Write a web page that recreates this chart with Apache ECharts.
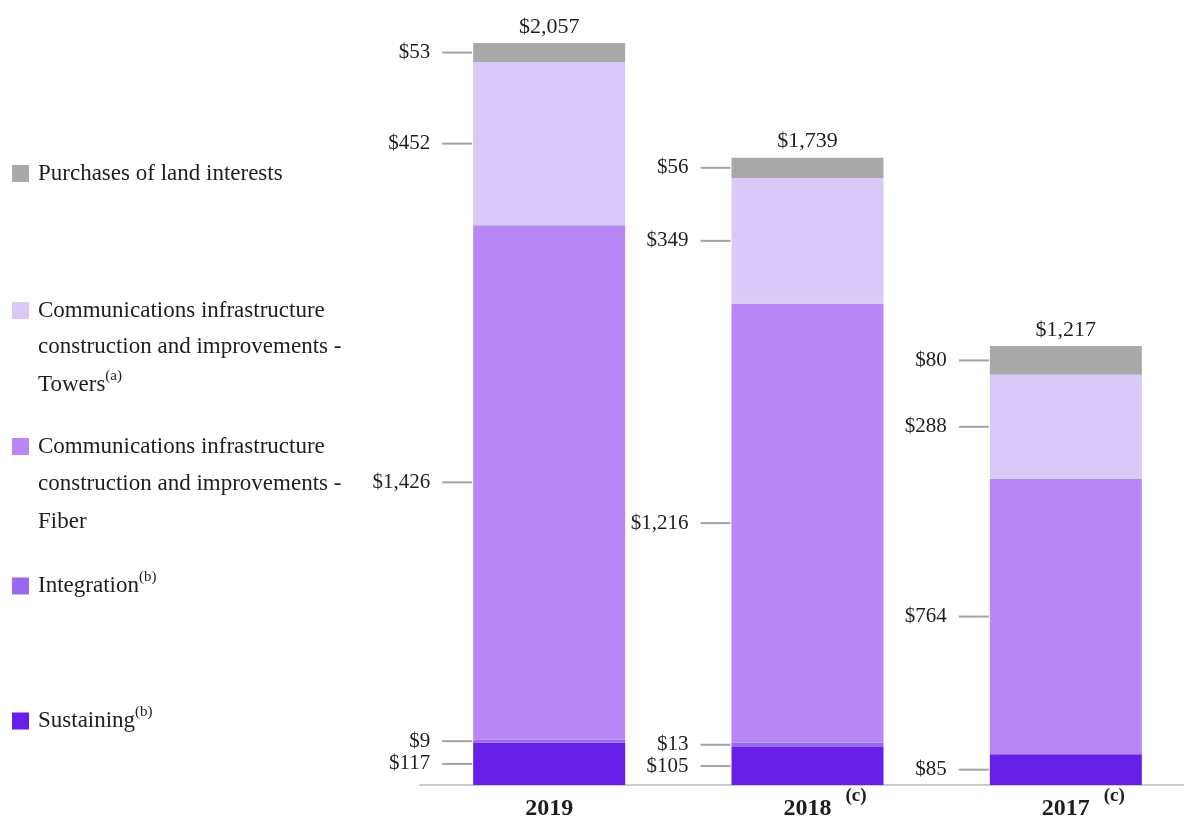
<!DOCTYPE html>
<html>
<head>
<meta charset="utf-8">
<script src="https://cdn.jsdelivr.net/npm/echarts@6/dist/echarts.min.js"></script>
<style>
html, body { margin: 0; padding: 0; background: #fff; }
#chart { width: 1184px; height: 824px; }
</style>
</head>
<body>
<div id="chart"></div>
<script>
// values in $ millions
var years = ['2019', '2018', '2017'];
var yearNotes = ['', '(c)', '(c)'];
var sustaining = [117, 105, 85];
var integration = [9, 13, 0];
var fiber = [1426, 1216, 764];
var towers = [452, 349, 288];
var land = [53, 56, 80];
var totals = [2057, 1739, 1217];

var serif = '"Liberation Serif", "DejaVu Serif", serif';
var textColor = '#1e1e1e';

function money(v) {
  return '$' + v.toLocaleString('en-US');
}

var sideRich = {
  v: { fontFamily: serif, fontSize: 21, color: textColor },
  g: { width: 12 },
  l: { width: 30, height: 2, backgroundColor: '#a3a3a3', verticalAlign: 'middle' }
};

function sideLabel(p) {
  return p.value ? '{v|' + money(p.value) + '}{g|}{l|}' : '';
}

function barSeries(name, data, color) {
  return {
    name: name,
    type: 'bar',
    stack: 'capex',
    barWidth: 152,
    data: data,
    itemStyle: { color: color },
    label: {
      show: true,
      position: 'left',
      distance: 1,
      formatter: sideLabel,
      rich: sideRich
    }
  };
}

var legendRich = {
  t: { fontFamily: serif, fontSize: 23, color: textColor, lineHeight: 32 },
  s: { fontFamily: serif, fontSize: 15, color: textColor, verticalAlign: 'top', lineHeight: 15 }
};
// graphic text goes straight to zrender, which wants fill instead of color
var graphicRich = {
  t: { fontFamily: serif, fontSize: 23, fill: textColor, lineHeight: 32 },
  s: { fontFamily: serif, fontSize: 15, fill: textColor, verticalAlign: 'top', lineHeight: 15 }
};

// one legend per item, spacing in the picture is irregular
var legendItems = [
  { name: 'land', top: 162, text: '{t|Purchases of land interests}' },
  { name: 'towers', top: 299, text: '{t|Communications infrastructure}' },
  { name: 'fiber', top: 435, text: '{t|Communications infrastructure}' },
  { name: 'integration', top: 570, text: '{t|Integration}{s|(b)}' },
  { name: 'sustaining', top: 705, text: '{t|Sustaining}{s|(b)}' }
];

var extraLines = [
  { y: 347, text: '{t|construction and improvements -}' },
  { y: 385, text: '{t|Towers}{s|(a)}' },
  { y: 484, text: '{t|construction and improvements -}' },
  { y: 522, text: '{t|Fiber}' }
];

var chart = echarts.init(document.getElementById('chart'));

chart.setOption({
  animation: false,
  legend: legendItems.map(function (item) {
    return {
      data: [item.name],
      left: 12,
      top: item.top,
      padding: 0,
      orient: 'vertical',
      icon: 'rect',
      itemWidth: 17,
      itemHeight: 17,
      selectedMode: false,
      formatter: function () { return item.text; },
      textStyle: { padding: [0, 0, 0, 4], rich: legendRich }
    };
  }),
  graphic: extraLines.map(function (line) {
    return {
      type: 'text',
      x: 38,
      y: line.y,
      style: {
        text: line.text,
        verticalAlign: 'middle',
        rich: graphicRich
      }
    };
  }),
  grid: { left: 420, width: 775, top: 43, bottom: 39, outerBoundsMode: 'none' },
  xAxis: {
    type: 'category',
    data: years,
    axisLine: { lineStyle: { color: '#cbcbcb', width: 2 } },
    axisTick: { show: false },
    axisLabel: {
      margin: 2,
      formatter: function (value, idx) {
        var note = yearNotes[idx];
        return note ? '{p|}{y|' + value + '}{s|' + note + '}' : '{y|' + value + '}';
      },
      rich: {
        p: { width: 35 },
        y: { fontFamily: serif, fontSize: 24, fontWeight: 'bold', color: textColor, lineHeight: 44 },
        s: { fontFamily: serif, fontSize: 19, fontWeight: 'bold', color: textColor, verticalAlign: 'top', lineHeight: 17, padding: [0, 0, 0, 14] }
      }
    }
  },
  yAxis: {
    type: 'value',
    min: 0,
    max: Math.max.apply(null, totals),
    show: false,
    splitLine: { show: false }
  },
  series: [
    barSeries('sustaining', sustaining, '#661fe6'),
    barSeries('integration', integration, '#9a68f0'),
    barSeries('fiber', fiber, '#b886f5'),
    barSeries('towers', towers, '#d8c9f8'),
    barSeries('land', land, '#a9a9a9'),
    {
      name: 'total',
      type: 'scatter',
      data: totals,
      symbolSize: 0,
      silent: true,
      itemStyle: { opacity: 1 },
      label: {
        show: true,
        position: 'top',
        distance: 5,
        formatter: function (p) { return money(p.value); },
        fontFamily: serif,
        fontSize: 22,
        color: textColor
      }
    }
  ]
});
</script>
</body>
</html>
